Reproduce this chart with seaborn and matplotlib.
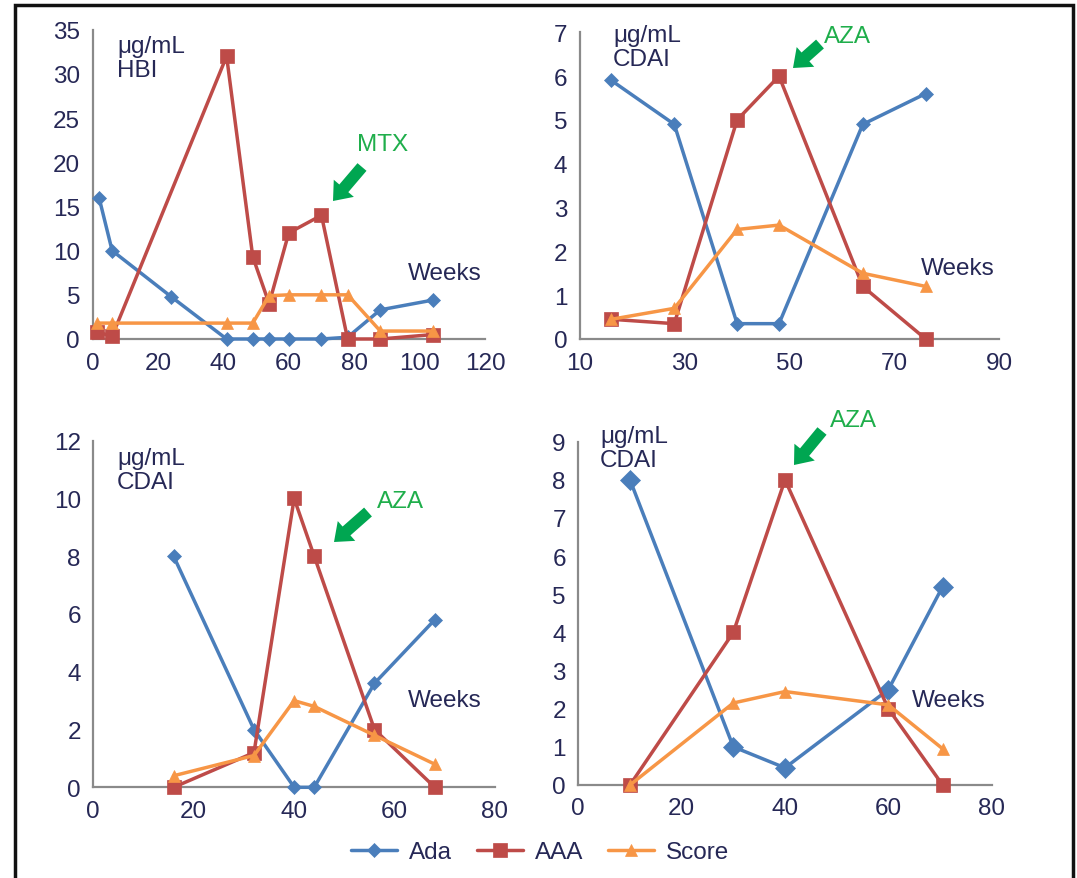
import matplotlib
matplotlib.use("Agg")
import matplotlib.pyplot as plt
from matplotlib.patches import FancyArrowPatch, Rectangle
import seaborn as sns

# ---- data -------------------------------------------------------------
series_names = ["Ada", "AAA", "Score"]

# Patient 1 (HBI, MTX)
p1_weeks_ada = [2, 6, 24, 41, 49, 54, 60, 70, 78, 88, 104]
p1_ada = [16, 10, 4.8, 0, 0, 0, 0, 0, 0.2, 3.3, 4.4]
p1_weeks = [1.5, 6, 41, 49, 54, 60, 70, 78, 88, 104]
p1_aaa = [0.8, 0.3, 32, 9.3, 4, 12, 14, 0, 0, 0.5]
p1_score = [1.8, 1.8, 1.8, 1.8, 4.9, 5, 5, 5, 0.9, 0.9]

# Patient 2 (CDAI, AZA)
p2_weeks = [16, 28, 40, 48, 64, 76]
p2_ada = [5.9, 4.9, 0.35, 0.35, 4.9, 5.6]
p2_aaa = [0.45, 0.35, 5, 6, 1.2, 0]
p2_score = [0.45, 0.7, 2.5, 2.6, 1.5, 1.2]

# Patient 3 (CDAI, AZA)
p3_weeks = [16, 32, 40, 44, 56, 68]
p3_ada = [8, 2, 0, 0, 3.6, 5.8]
p3_aaa = [0, 1.2, 10, 8, 2, 0]
p3_score = [0.4, 1.1, 3, 2.8, 1.8, 0.8]

# Patient 4 (CDAI, AZA)
p4_weeks = [10, 30, 40, 60, 70.5]
p4_ada = [8, 1, 0.45, 2.5, 5.2]
p4_aaa = [0, 4, 8, 2, 0]
p4_score = [0, 2.15, 2.45, 2.1, 0.95]

p1_xticks = [0, 20, 40, 60, 80, 100, 120]
p1_yticks = [0, 5, 10, 15, 20, 25, 30, 35]
p2_xticks = [10, 30, 50, 70, 90]
p2_yticks = [0, 1, 2, 3, 4, 5, 6, 7]
p3_xticks = [0, 20, 40, 60, 80]
p3_yticks = [0, 2, 4, 6, 8, 10, 12]
p4_xticks = [0, 20, 40, 60, 80]
p4_yticks = [0, 1, 2, 3, 4, 5, 6, 7, 8, 9]

score_names = ["HBI", "CDAI", "CDAI", "CDAI"]
drug_names = ["MTX", "AZA", "AZA", "AZA"]

# ---- style ------------------------------------------------------------
sns.set_style("white")
plt.rcParams["font.family"] = ["Liberation Sans", "DejaVu Sans"]

W, H = 1077, 879
COLORS = {"Ada": "#4a7ebb", "AAA": "#be4b48", "Score": "#f79646"}
MARKERS = {"Ada": "D", "AAA": "s", "Score": "^"}
TEXT_C = "#262856"
GREEN = "#1fae4b"
ARROW_C = "#00a651"
SPINE_C = "#8a8a8a"
FS = 17.5

fig = plt.figure(figsize=(W / 100, H / 100), dpi=100)
fig.patch.set_facecolor("white")


def axes_px(x0, x1, ytop, ybot):
    return fig.add_axes([x0 / W, 1 - ybot / H, (x1 - x0) / W, (ybot - ytop) / H])


def fx(x):
    return x / W


def fy(y):
    return 1 - y / H


panels = [
    dict(box=(92.5, 485, 30.7, 340), xlim=(0, 120), ylim=(0, 35),
         xt=p1_xticks, yt=p1_yticks,
         series=[(p1_weeks_ada, p1_ada), (p1_weeks, p1_aaa), (p1_weeks, p1_score)],
         ada_ms=7,
         unit_xy=(117, 36), weeks_xy=(408, 263), drug_xy=(357, 134),
         arrow=((362, 168), (333, 202))),
    dict(box=(580, 999, 33.3, 340), xlim=(10, 90), ylim=(0, 7),
         xt=p2_xticks, yt=p2_yticks,
         series=[(p2_weeks, p2_ada), (p2_weeks, p2_aaa), (p2_weeks, p2_score)],
         ada_ms=7,
         unit_xy=(613, 25), weeks_xy=(921, 258), drug_xy=(824, 26),
         arrow=((820, 45), (793, 69))),
    dict(box=(93.3, 495, 441.7, 788.3), xlim=(0, 80), ylim=(0, 12),
         xt=p3_xticks, yt=p3_yticks,
         series=[(p3_weeks, p3_ada), (p3_weeks, p3_aaa), (p3_weeks, p3_score)],
         ada_ms=7,
         unit_xy=(117, 448), weeks_xy=(408, 690), drug_xy=(377, 491),
         arrow=((368, 513), (334, 543))),
    dict(box=(578.3, 991.7, 442.7, 786), xlim=(0, 80), ylim=(0, 9),
         xt=p4_xticks, yt=p4_yticks,
         series=[(p4_weeks, p4_ada), (p4_weeks, p4_aaa), (p4_weeks, p4_score)],
         ada_ms=10,
         unit_xy=(600, 426), weeks_xy=(912, 690), drug_xy=(830, 410),
         arrow=((822, 432), (794, 466))),
]

axes = []
for i, p in enumerate(panels):
    ax = axes_px(*p["box"])
    axes.append(ax)
    for name, (xs, ys) in zip(series_names, p["series"]):
        ms = {"Ada": p["ada_ms"], "AAA": 9.5, "Score": 8}[name]
        sns.lineplot(x=xs, y=ys, ax=ax, color=COLORS[name], marker=MARKERS[name],
                     markersize=ms, markeredgecolor=COLORS[name],
                     markeredgewidth=0.5, linewidth=2.5, sort=False,
                     legend=False, label=name, clip_on=False, zorder=3)
    ax.set_xlim(*p["xlim"])
    ax.set_ylim(*p["ylim"])
    ax.set_xticks(p["xt"])
    ax.set_yticks(p["yt"])
    ax.set_xlabel("")
    ax.set_ylabel("")
    ax.set_facecolor("none")
    for side in ("top", "right"):
        ax.spines[side].set_visible(False)
    for side in ("left", "bottom"):
        ax.spines[side].set_color(SPINE_C)
        ax.spines[side].set_linewidth(1.6)
    ax.tick_params(direction="out", length=6, width=1.5, color=SPINE_C,
                   labelsize=FS, labelcolor=TEXT_C, pad=3)

    # unit / score label, "Weeks" and drug annotation
    fig.text(fx(p["unit_xy"][0]), fy(p["unit_xy"][1]), "μg/mL\n" + score_names[i],
             fontsize=FS, color=TEXT_C, ha="left", va="top", linespacing=1.12)
    fig.text(fx(p["weeks_xy"][0]), fy(p["weeks_xy"][1]), "Weeks",
             fontsize=FS, color=TEXT_C, ha="left", va="top")
    fig.text(fx(p["drug_xy"][0]), fy(p["drug_xy"][1]), drug_names[i],
             fontsize=FS, color=GREEN, ha="left", va="top")
    (tx, ty), (hx, hy) = p["arrow"]
    fig.add_artist(FancyArrowPatch(
        (fx(tx), fy(ty)), (fx(hx), fy(hy)), transform=fig.transFigure,
        arrowstyle="simple,head_width=1.9,head_length=1.2,tail_width=0.85",
        mutation_scale=10, color=ARROW_C, lw=0, shrinkA=0, shrinkB=0))

# shared legend
handles, labels = axes[0].get_legend_handles_labels()
fig.legend(handles, labels, loc="center", bbox_to_anchor=(fx(540), fy(853)),
           ncol=3, frameon=False, fontsize=FS, handlelength=1.9,
           handletextpad=0.5, columnspacing=1.0, labelcolor=TEXT_C)

# outer frame
fig.add_artist(Rectangle((fx(15), -0.05), fx(1073) - fx(15), fy(6) + 0.05,
                         transform=fig.transFigure, fill=False,
                         edgecolor="#111111", linewidth=2.5))

fig.savefig("out.png", dpi=100, facecolor="white")
